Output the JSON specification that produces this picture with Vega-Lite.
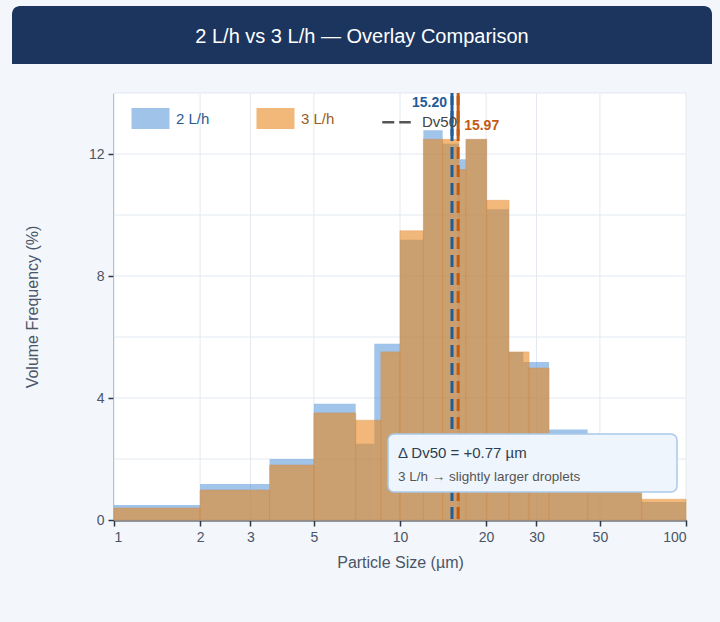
{
  "$schema": "https://vega.github.io/schema/vega-lite/v6.json",
  "background": "#f3f6fa",
  "padding": {"left": 12, "top": 6, "right": 8, "bottom": 60},
  "config": {
    "font": "Liberation Sans",
    "view": {"stroke": null},
    "axis": {
      "labelFont": "Liberation Sans",
      "titleFont": "Liberation Sans",
      "labelFontSize": 14,
      "titleFontSize": 16,
      "labelColor": "#4a5568",
      "titleColor": "#4a5568",
      "titleFontWeight": "normal",
      "grid": false,
      "domainColor": "#2d3748",
      "domainWidth": 2,
      "tickColor": "#2d3748",
      "tickWidth": 1.5,
      "tickSize": 6,
      "labelPadding": 4,
      "zindex": 1
    }
  },
  "datasets": {
    "bins": [
      {"series": "2 L/h", "lo": 1, "hi": 2, "pct": 0.49},
      {"series": "2 L/h", "lo": 2, "hi": 3.5, "pct": 1.18},
      {"series": "2 L/h", "lo": 3.5, "hi": 5, "pct": 2.0},
      {"series": "2 L/h", "lo": 5, "hi": 7, "pct": 3.81},
      {"series": "2 L/h", "lo": 7, "hi": 8.13, "pct": 2.5},
      {"series": "2 L/h", "lo": 8.13, "hi": 10, "pct": 5.78},
      {"series": "2 L/h", "lo": 10, "hi": 12.07, "pct": 9.19},
      {"series": "2 L/h", "lo": 12.07, "hi": 14.1, "pct": 12.78},
      {"series": "2 L/h", "lo": 14.1, "hi": 16.08, "pct": 12.34},
      {"series": "2 L/h", "lo": 16.08, "hi": 17.0, "pct": 11.83},
      {"series": "2 L/h", "lo": 17.0, "hi": 20.1, "pct": 12.48},
      {"series": "2 L/h", "lo": 20.1, "hi": 24.05, "pct": 10.19},
      {"series": "2 L/h", "lo": 24.05, "hi": 27.0, "pct": 5.51},
      {"series": "2 L/h", "lo": 27.0, "hi": 33.2, "pct": 5.18},
      {"series": "2 L/h", "lo": 33.2, "hi": 45.3, "pct": 2.97},
      {"series": "2 L/h", "lo": 45.3, "hi": 70, "pct": 1.3},
      {"series": "2 L/h", "lo": 70, "hi": 100, "pct": 0.59},
      {"series": "3 L/h", "lo": 1, "hi": 2, "pct": 0.39},
      {"series": "3 L/h", "lo": 2, "hi": 3.5, "pct": 0.98},
      {"series": "3 L/h", "lo": 3.5, "hi": 5, "pct": 1.8},
      {"series": "3 L/h", "lo": 5, "hi": 7, "pct": 3.51},
      {"series": "3 L/h", "lo": 7, "hi": 8.58, "pct": 3.27},
      {"series": "3 L/h", "lo": 8.58, "hi": 10, "pct": 5.51},
      {"series": "3 L/h", "lo": 10, "hi": 12.07, "pct": 9.48},
      {"series": "3 L/h", "lo": 12.07, "hi": 14.1, "pct": 12.48},
      {"series": "3 L/h", "lo": 14.1, "hi": 16.08, "pct": 12.48},
      {"series": "3 L/h", "lo": 16.08, "hi": 17.0, "pct": 11.49},
      {"series": "3 L/h", "lo": 17.0, "hi": 20.1, "pct": 12.48},
      {"series": "3 L/h", "lo": 20.1, "hi": 24.05, "pct": 10.48},
      {"series": "3 L/h", "lo": 24.05, "hi": 28.25, "pct": 5.51},
      {"series": "3 L/h", "lo": 28.25, "hi": 33.2, "pct": 4.98},
      {"series": "3 L/h", "lo": 33.2, "hi": 45.3, "pct": 2.75},
      {"series": "3 L/h", "lo": 45.3, "hi": 70, "pct": 1.7},
      {"series": "3 L/h", "lo": 70, "hi": 100, "pct": 0.68}
    ],
    "dv50": [
      {"series": "2 L/h", "dv50": 15.2, "label": "15.20"},
      {"series": "3 L/h", "dv50": 15.97, "label": "15.97"}
    ],
    "xgrid": [{"v": 1}, {"v": 2}, {"v": 3}, {"v": 5}, {"v": 10}, {"v": 20}, {"v": 30}, {"v": 50}, {"v": 100}],
    "ygrid": [{"v": 0}, {"v": 2}, {"v": 4}, {"v": 6}, {"v": 8}, {"v": 10}, {"v": 12}, {"v": 14}],
    "note": [
      {"line1": "Δ Dv50 = +0.77 µm", "line2": "3 L/h → slightly larger droplets"}
    ],
    "head": [
      {"title": "2 L/h vs 3 L/h — Overlay Comparison"}
    ]
  },
  "vconcat": [
    {
      "width": 700,
      "height": 58,
      "data": {"name": "head"},
      "layer": [
        {
          "mark": {"type": "rect", "color": "#1c355e", "cornerRadiusTopLeft": 8, "cornerRadiusTopRight": 8},
          "encoding": {}
        },
        {
          "mark": {"type": "text", "color": "#ffffff", "fontSize": 20, "font": "Liberation Sans", "dy": 2},
          "encoding": {"text": {"field": "title"}}
        }
      ]
    },
    {
      "width": 674,
      "height": 427,
      "view": {"fill": null, "stroke": null},
      "layer": [
        {
          "data": {"name": "head"},
          "mark": {"type": "rect", "color": "#ffffff"},
          "encoding": {
            "x": {
              "datum": 1, "type": "quantitative",
              "scale": {"type": "log", "domain": [1, 100], "nice": false, "range": [102, 674]},
              "axis": {"title": "Particle Size (µm)", "values": [1, 2, 3, 5, 10, 20, 30, 50, 100], "format": "~g", "titlePadding": 10}
            },
            "x2": {"datum": 100}
          }
        },
        {
          "data": {"name": "xgrid"},
          "mark": {"type": "rule", "color": "#e3e9f0", "strokeWidth": 1},
          "encoding": {"x": {"field": "v", "type": "quantitative"}}
        },
        {
          "data": {"name": "ygrid"},
          "mark": {"type": "rule", "color": "#e3e9f0", "strokeWidth": 1},
          "encoding": {
            "y": {"field": "v", "type": "quantitative"},
            "x": {"datum": 1, "type": "quantitative"},
            "x2": {"datum": 100}
          }
        },
        {
          "data": {"name": "bins"},
          "transform": [{"filter": "datum.series === '2 L/h'"}],
          "mark": {"type": "bar", "opacity": 0.5},
          "encoding": {
            "x": {"field": "lo", "type": "quantitative"},
            "x2": {"field": "hi"},
            "y": {
              "field": "pct", "type": "quantitative",
              "scale": {"domain": [0, 14], "nice": false},
              "axis": {
                "title": "Volume Frequency (%)",
                "offset": -102,
                "values": [0, 4, 8, 12],
                "minExtent": 30,
                "titlePadding": 44
              }
            },
            "y2": {"datum": 0},
            "color": {
              "field": "series", "type": "nominal",
              "scale": {"domain": ["2 L/h", "3 L/h", "Dv50"], "range": ["#4189d5", "#e98921", "transparent"]},
              "legend": {
                "title": null,
                "orient": "none",
                "legendX": 118,
                "legendY": 5,
                "direction": "horizontal",
                "columns": 3,
                "padding": 0,
                "columnPadding": 41,
                "symbolSize": 1444,
                "symbolType": {"expr": "datum.value === 'Dv50' ? 'M-0.75,0H0.75' : 'M-1,-0.55H1V0.55H-1Z'"},
                "symbolStrokeColor": {"expr": "datum.value === 'Dv50' ? '#555555' : 'transparent'"},
                "symbolStrokeWidth": 2.5,
                "symbolDash": {"expr": "datum.value === 'Dv50' ? [12, 5] : [1, 0]"},
                "symbolOpacity": {"expr": "datum.value === '2 L/h' ? 0.5 : (datum.value === '3 L/h' ? 0.6 : 1)"},
                "labelColor": {"expr": "datum.value === '2 L/h' ? '#2b5a8f' : (datum.value === '3 L/h' ? '#9c5a1e' : '#444444')"},
                "labelOffset": 5,
                "labelFontSize": 15,
                "labelFont": "Liberation Sans"
              }
            }
          }
        },
        {
          "data": {"name": "bins"},
          "transform": [{"filter": "datum.series === '3 L/h'"}],
          "mark": {"type": "bar", "opacity": 0.6, "color": "#e98921", "stroke": "#e07b20", "strokeWidth": 0.7},
          "encoding": {
            "x": {"field": "lo", "type": "quantitative"},
            "x2": {"field": "hi"},
            "y": {"field": "pct", "type": "quantitative"},
            "y2": {"datum": 0}
          }
        },
        {
          "data": {"name": "dv50"},
          "transform": [{"filter": "datum.series === '2 L/h'"}],
          "layer": [
            {
              "mark": {"type": "rule", "color": "#1f5c99", "strokeWidth": 3, "strokeDash": [12, 6]},
              "encoding": {"x": {"field": "dv50", "type": "quantitative"}}
            },
            {
              "mark": {"type": "rule", "color": "#1f5c99", "strokeWidth": 3},
              "encoding": {
                "x": {"field": "dv50", "type": "quantitative"},
                "y": {"datum": 13.9, "type": "quantitative"},
                "y2": {"datum": 12.6}
              }
            },
            {
              "mark": {"type": "text", "color": "#1f5c99", "fontSize": 14, "fontWeight": "bold", "align": "right", "dx": -5},
              "encoding": {
                "x": {"field": "dv50", "type": "quantitative"},
                "y": {"datum": 13.67, "type": "quantitative"},
                "text": {"field": "label"}
              }
            }
          ]
        },
        {
          "data": {"name": "dv50"},
          "transform": [{"filter": "datum.series === '3 L/h'"}],
          "layer": [
            {
              "mark": {"type": "rule", "color": "#c55a11", "strokeWidth": 3, "strokeDash": [12, 6]},
              "encoding": {"x": {"field": "dv50", "type": "quantitative"}}
            },
            {
              "mark": {"type": "rule", "color": "#c55a11", "strokeWidth": 3},
              "encoding": {
                "x": {"field": "dv50", "type": "quantitative"},
                "y": {"datum": 13.9, "type": "quantitative"},
                "y2": {"datum": 12.6}
              }
            },
            {
              "mark": {"type": "text", "color": "#c55a11", "fontSize": 14, "fontWeight": "bold", "align": "left", "dx": 6},
              "encoding": {
                "x": {"field": "dv50", "type": "quantitative"},
                "y": {"datum": 12.92, "type": "quantitative"},
                "text": {"field": "label"}
              }
            }
          ]
        },
        {
          "data": {"name": "note"},
          "layer": [
            {
              "mark": {"type": "rect", "fill": "#eef5fc", "stroke": "#a9c9e8", "strokeWidth": 1.5, "cornerRadius": 6},
              "encoding": {
                "x": {"datum": 9.08, "type": "quantitative"},
                "x2": {"datum": 93},
                "y": {"datum": 2.82, "type": "quantitative"},
                "y2": {"datum": 0.92}
              }
            },
            {
              "mark": {"type": "text", "align": "left", "fontSize": 15, "color": "#2d3e50"},
              "encoding": {
                "x": {"datum": 9.84, "type": "quantitative"},
                "y": {"datum": 2.2, "type": "quantitative"},
                "text": {"field": "line1"}
              }
            },
            {
              "mark": {"type": "text", "align": "left", "fontSize": 13.5, "color": "#555555"},
              "encoding": {
                "x": {"datum": 9.84, "type": "quantitative"},
                "y": {"datum": 1.41, "type": "quantitative"},
                "text": {"field": "line2"}
              }
            }
          ]
        }
      ]
    }
  ],
  "resolve": {"legend": {"color": "independent"}},
  "spacing": 27
}
